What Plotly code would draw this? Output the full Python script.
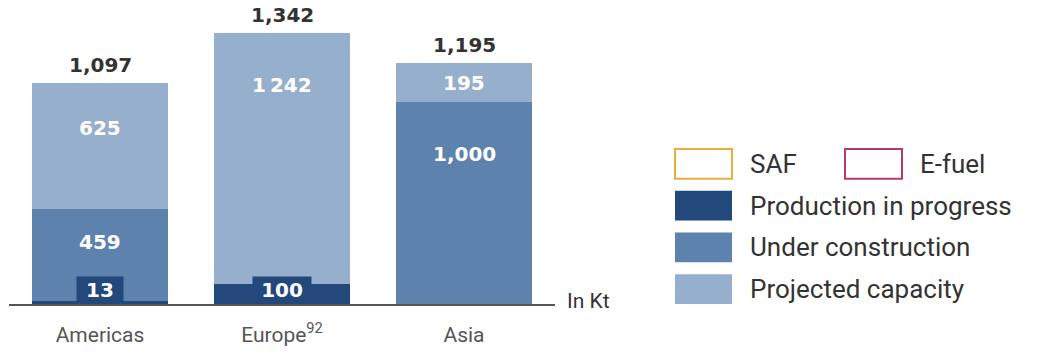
import plotly.graph_objects as go

# ---------------- data ----------------
regions = ["Americas", "Europe", "Asia"]
tick_labels = ["Americas", "Europe<sup>92</sup>", "Asia"]
production = [13, 100, 0]
construction = [459, 0, 1000]
projected = [625, 1242, 195]
production_labels = ["13", "100", ""]
construction_labels = ["459", "", "1,000"]
projected_labels = ["625", "1\u202f242", "195"]
legend_labels = ["SAF", "E-fuel", "Production in progress",
                 "Under construction", "Projected capacity"]
unit_label = "In Kt"

# ---------------- style ----------------
W, H = 1054, 353
L, R_M, T, B = 9, 499, 6, 47
PLOT_W = W - L - R_M
PLOT_H = H - T - B
YMAX = 1478
SCALE = PLOT_H / YMAX  # px per kt

C_PROD = "#23497c"
C_CONS = "#5e82ae"
C_PROJ = "#95afcc"
C_SAF = "#e9ad3f"
C_EFUEL = "#b83a62"
TXT = "#333333"
NUM_FONT = "DejaVu Sans"
TXT_FONT = "Roboto"

fig = go.Figure()
for vals, col, name in [(production, C_PROD, legend_labels[2]),
                        (construction, C_CONS, legend_labels[3]),
                        (projected, C_PROJ, legend_labels[4])]:
    fig.add_trace(go.Bar(x=regions, y=vals, marker_color=col,
                         marker_line_width=0, name=name, showlegend=False,
                         hoverinfo="skip"))

annotations = []

# segment labels (upper segments)
for i, reg in enumerate(regions):
    base = production[i]
    for vals, labels in [(construction, construction_labels),
                         (projected, projected_labels)]:
        v = vals[i]
        top = base + v
        if labels[i]:
            seg_px = v * SCALE
            off = min(max(0.36 * seg_px, min(seg_px / 2, 24)), 52)
            annotations.append(dict(
                x=reg, y=top - off / SCALE, xref="x", yref="y",
                text="<b>%s</b>" % labels[i], showarrow=False,
                yanchor="middle",
                font=dict(family=NUM_FONT, size=20, color="white")))
        base = top

# production labels with dark background boxes
for i, reg in enumerate(regions):
    if production_labels[i]:
        annotations.append(dict(
            x=reg, y=0, xref="x", yref="y", yanchor="bottom",
            text="<b>%s</b>" % production_labels[i], showarrow=False,
            bgcolor=C_PROD, width=12 * len(production_labels[i]) + 22,
            height=26, borderpad=0,
            font=dict(family=NUM_FONT, size=20, color="white")))

# totals
for i, reg in enumerate(regions):
    tot = production[i] + construction[i] + projected[i]
    annotations.append(dict(
        x=reg, y=tot, xref="x", yref="y", yanchor="bottom", yshift=4,
        text="<b>{:,}</b>".format(tot), showarrow=False,
        font=dict(family=NUM_FONT, size=20, color=TXT)))

# unit label
annotations.append(dict(
    x=1, y=0, xref="paper", yref="y", xanchor="left", yanchor="middle",
    xshift=10, yshift=3, text=unit_label, showarrow=False,
    font=dict(family=TXT_FONT, size=21, color=TXT)))

# manual legend
def px_x(p):
    return (p - L) / PLOT_W


def px_y(p):
    return (H - B - p) / PLOT_H


shapes = []
legend_rows = [
    (675, 165, legend_labels[0], C_SAF, False),
    (845, 165, legend_labels[1], C_EFUEL, False),
    (675, 207, legend_labels[2], C_PROD, True),
    (675, 249, legend_labels[3], C_CONS, True),
    (675, 291, legend_labels[4], C_PROJ, True),
]
for bx, cy, lab, col, filled in legend_rows:
    shapes.append(dict(
        type="rect", xref="paper", yref="paper",
        x0=px_x(bx), x1=px_x(bx + 57),
        y0=px_y(cy + 15), y1=px_y(cy - 15),
        fillcolor=col if filled else "white",
        line=dict(color=col, width=0 if filled else 2)))
    annotations.append(dict(
        x=px_x(bx + 73), y=px_y(cy), xref="paper", yref="paper",
        xanchor="left", yanchor="middle", text=lab, showarrow=False,
        font=dict(family=TXT_FONT, size=26, color=TXT)))

fig.update_layout(
    width=W, height=H, autosize=False,
    margin=dict(l=L, r=R_M, t=T, b=B, pad=0),
    paper_bgcolor="white", plot_bgcolor="white",
    barmode="stack", bargap=0.258,
    showlegend=False,
    annotations=annotations, shapes=shapes,
    xaxis=dict(tickmode="array", tickvals=regions, ticktext=tick_labels,
               range=[-0.5, 2.5], showline=True, linecolor="#555555",
               linewidth=2, ticks="outside", ticklen=11,
               tickcolor="rgba(0,0,0,0)", showgrid=False, zeroline=False,
               tickfont=dict(family=TXT_FONT, size=21, color="#555555"),
               fixedrange=True),
    yaxis=dict(range=[0, YMAX], visible=False, fixedrange=True),
)

fig.write_html("out.html", config={"displayModeBar": False})
